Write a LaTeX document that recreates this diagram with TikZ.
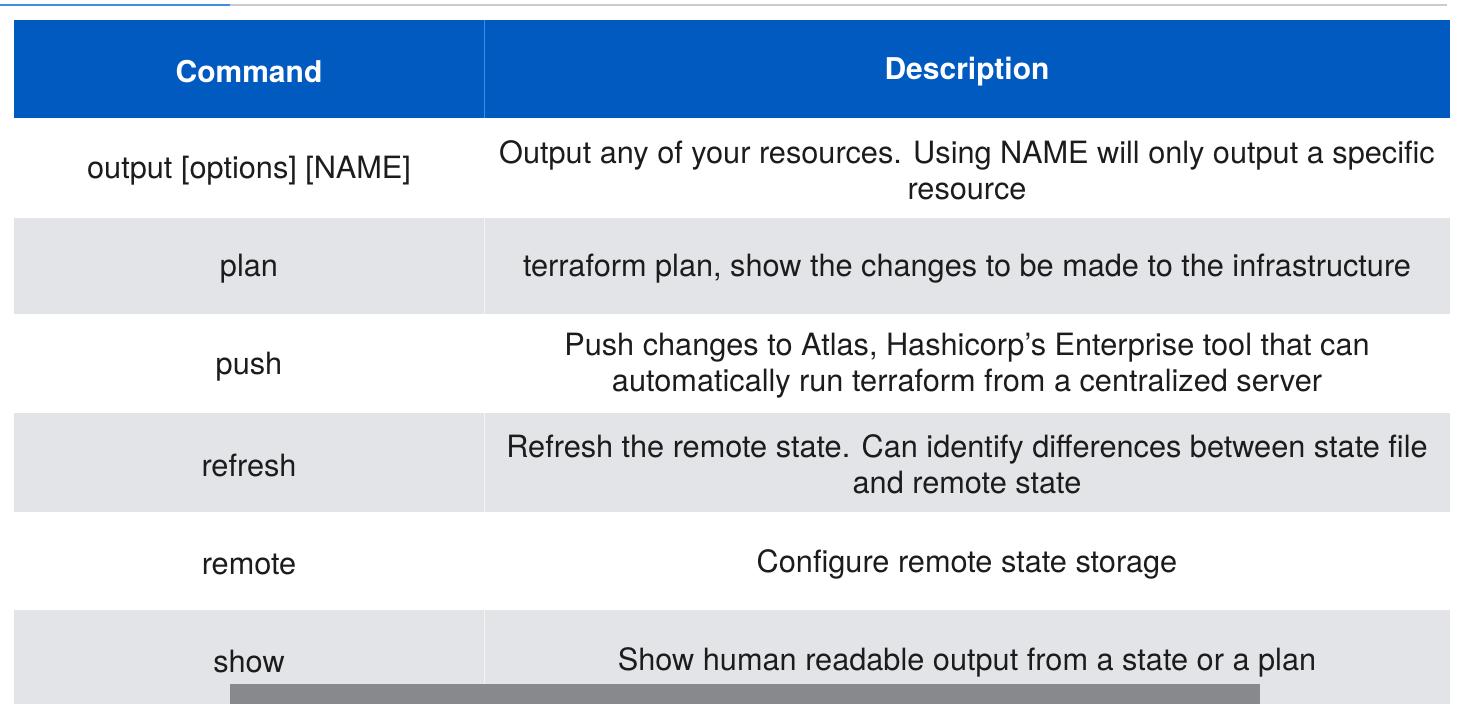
\documentclass[tikz,border=0pt]{standalone}
\usepackage{fontspec}
\setmainfont{TeX Gyre Heros}
\definecolor{kopfblau}{HTML}{005ABF}
\definecolor{trennblau}{HTML}{3E8FE4}
\definecolor{zeilengrau}{HTML}{E3E4E7}
\definecolor{liniengrau}{HTML}{CACAD3}
\definecolor{textgrau}{HTML}{1C1C1C}
\definecolor{untertitel}{HTML}{88898C}
\tikzset{
	kopf/.style={text=white, font=\fontsize{30}{36}\selectfont\bfseries, inner sep=0pt},
	zelle/.style={text=textgrau, font=\fontsize{30.7}{36}\selectfont, align=center, inner sep=0pt},
}
\begin{document}
\begin{tikzpicture}[x=1pt, y=-1pt]
	\useasboundingbox[fill=white] (0, 0) rectangle (1478, 704);
	% Linie oben
	\draw[line width=2pt, liniengrau] (230, 5) -- (1447, 5);
	\draw[line width=2pt, trennblau] (0, 5) -- (230, 5);
	% Kopfzeile
	\fill[kopfblau] (14, 20) rectangle (1450, 118);
	\draw[trennblau, line width=1pt] (484, 20) -- (484, 118);
	\node[kopf] (kcmd) at (249, 72) {Command};
	\node[kopf] (kdesc) at (967, 72) {Description};
	% Zeilen
	\fill[zeilengrau] (14, 218) rectangle (1450, 314);
	\fill[zeilengrau] (14, 413) rectangle (1450, 512);
	\fill[zeilengrau] (14, 610) rectangle (1450, 704);
	\draw[white!60!zeilengrau, line width=1pt] (484, 218) -- (484, 314);
	\draw[white!60!zeilengrau, line width=1pt] (484, 413) -- (484, 512);
	\draw[white!60!zeilengrau, line width=1pt] (484, 610) -- (484, 704);
	% Befehle
	\node[zelle] (output) at (249, 171) {output [options] [NAME]};
	\node[zelle] (plan) at (249, 269) {plan};
	\node[zelle] (push) at (249, 367) {push};
	\node[zelle] (refresh) at (249, 465) {refresh};
	\node[zelle] (remote) at (249, 564) {remote};
	\node[zelle] (show) at (249, 662) {show};
	% Beschreibungen
	\node[zelle] (doutput) at (967, 170) {Output any of your resources. Using NAME will only output a specific\\resource};
	\node[zelle] (dplan) at (967, 269) {terraform plan, show the changes to be made to the infrastructure};
	\node[zelle] (dpush) at (967, 366) {Push changes to Atlas, Hashicorp’s Enterprise tool that can\\automatically run terraform from a centralized server};
	\node[zelle] (drefresh) at (967, 464) {Refresh the remote state. Can identify differences between state file\\and remote state};
	\node[zelle] (dremote) at (967, 564) {Configure remote state storage};
	\node[zelle] (dshow) at (967, 662) {Show human readable output from a state or a plan};
	% Untertitel
	\fill[untertitel] (230, 684) rectangle (1260, 704);
\end{tikzpicture}
\end{document}
